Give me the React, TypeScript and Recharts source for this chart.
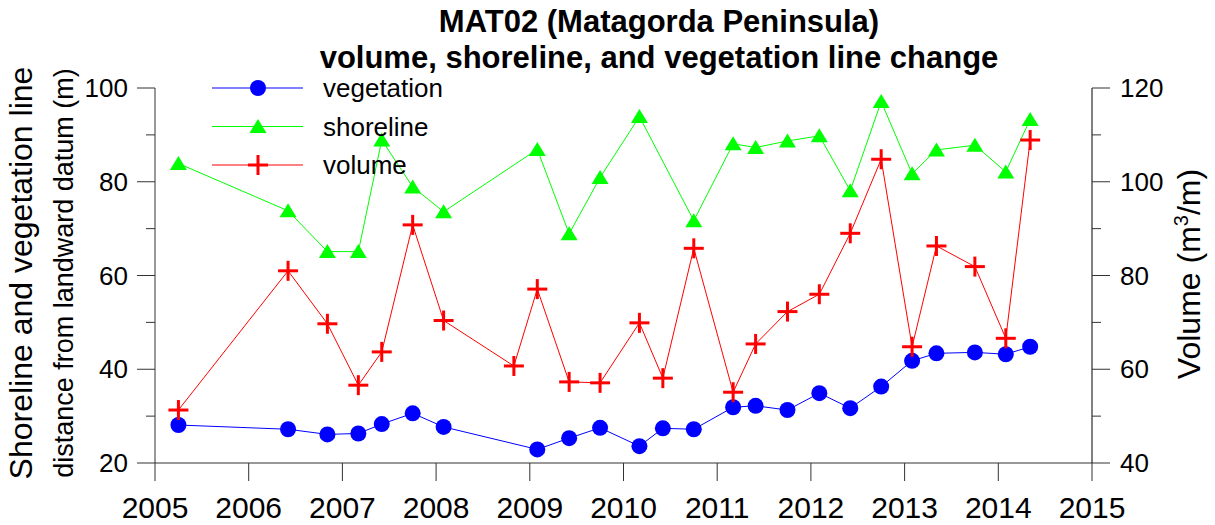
import React from "react"
import { LineChart, Line, XAxis, YAxis } from "recharts"

// survey dates (decimal years) shared by all three series
const surveyDates = [
  2005.25, 2006.42, 2006.84, 2007.17, 2007.42, 2007.75, 2008.08, 2008.83, 2009.08, 2009.42, 2009.75, 2010.17,
  2010.42, 2010.75, 2011.17, 2011.41, 2011.75, 2012.09, 2012.42, 2012.75, 2013.08, 2013.34, 2013.75, 2014.08,
  2014.34,
]

// distance from landward datum (m)
const vegetation = [
  28.1, 27.2, 26.1, 26.3, 28.3, 30.6, 27.7, null, 22.9, 25.3, 27.5, 23.6, 27.4, 27.2, 31.9, 32.2, 31.3, 34.9, 31.7,
  36.3, 41.8, 43.4, 43.6, 43.2, 44.8,
]
const shoreline = [
  83.9, 73.8, 65.1, 65.1, 88.9, 78.9, 73.6, null, 86.9, 68.9, 80.9, 93.9, null, 71.7, 88.1, 87.3, 88.7, 89.8, 78.1,
  97.1, 81.7, 86.8, 87.8, 82.1, 93.3,
]
// volume (m3/m), right axis
const volume = [
  51.3, 81.0, 69.7, 56.6, 63.7, 90.8, 70.4, 60.7, 77.1, 57.3, 57.1, 69.9, 58.1, 85.8, 55.1, 65.4, 72.3, 76.0, 89.0,
  104.8, 64.8, 86.3, 81.9, 66.6, 108.9,
]

const yearTicks = [2005, 2006, 2007, 2008, 2009, 2010, 2011, 2012, 2013, 2014, 2015]
const distanceTicks = [20, 30, 40, 50, 60, 70, 80, 90, 100]
const volumeTicks = [40, 50, 60, 70, 80, 90, 100, 110, 120]

const FONT = '"Liberation Sans", Arial, sans-serif'
const AXIS = "#333"
const BLUE = "#0000ff"
const GREEN = "#00ff00"
const RED = "#ff0000"

const data = surveyDates.map((year, i) => ({
  year,
  vegetation: vegetation[i],
  shoreline: shoreline[i],
  volume: volume[i],
}))

const LeftTick = (props: any) => {
  const { x, y, payload } = props
  const major = payload.value % 20 === 0
  return (
    <g>
      <line x1={x} x2={x - (major ? 18 : 9)} y1={y} y2={y} stroke={AXIS} />
      {major && (
        <text x={x - 27} y={y + 9} textAnchor="end" fontSize={26} fontFamily={FONT} fill="#000">
          {payload.value}
        </text>
      )}
    </g>
  )
}

const RightTick = (props: any) => {
  const { x, y, payload } = props
  const major = payload.value % 20 === 0
  return (
    <g>
      <line x1={x} x2={x + (major ? 18 : 9)} y1={y} y2={y} stroke={AXIS} />
      {major && (
        <text x={x + 28} y={y + 9} textAnchor="start" fontSize={26} fontFamily={FONT} fill="#000">
          {payload.value}
        </text>
      )}
    </g>
  )
}

const BottomTick = (props: any) => {
  const { x, y, payload } = props
  return (
    <g>
      <line x1={x} x2={x} y1={y} y2={y + 18} stroke={AXIS} />
      <text x={x} y={y + 55} textAnchor="middle" fontSize={30} fontFamily={FONT} fill="#000">
        {payload.value}
      </text>
    </g>
  )
}

const Triangle = ({ cx, cy }: { cx: number; cy: number }) => (
  <polygon points={`${cx},${cy - 7.5} ${cx - 8.5},${cy + 6.5} ${cx + 8.5},${cy + 6.5}`} fill={GREEN} />
)

const Plus = ({ cx, cy }: { cx: number; cy: number }) => (
  <g stroke={RED} strokeWidth={3}>
    <line x1={cx - 10} x2={cx + 10} y1={cy} y2={cy} />
    <line x1={cx} x2={cx} y1={cy - 10} y2={cy + 10} />
  </g>
)

const triangleDot = (p: any) =>
  p.cy == null || p.value == null ? <g key={p.key ?? `t-${p.index}`} /> : <Triangle key={p.key ?? `t-${p.index}`} cx={p.cx} cy={p.cy} />

const plusDot = (p: any) =>
  p.cy == null || p.value == null ? <g key={p.key ?? `p-${p.index}`} /> : <Plus key={p.key ?? `p-${p.index}`} cx={p.cx} cy={p.cy} />

const legendItems = [
  { name: "vegetation", color: BLUE, marker: "circle" },
  { name: "shoreline", color: GREEN, marker: "triangle" },
  { name: "volume", color: RED, marker: "plus" },
]

export default function App() {
  return (
    <div style={{ position: "absolute", left: 0, top: 0, width: 1215, height: 525, background: "#fff", fontFamily: FONT }}>
      <LineChart width={1215} height={525} data={data} margin={{ top: 88, right: 0, bottom: 0, left: 0 }}>
        <XAxis
          dataKey="year"
          type="number"
          domain={[2005, 2015]}
          ticks={yearTicks}
          interval={0}
          height={62}
          tickSize={0}
          tickMargin={0}
          tickLine={false}
          axisLine={{ stroke: AXIS }}
          tick={<BottomTick />}
        />
        <YAxis
          yAxisId="left"
          orientation="left"
          domain={[20, 100]}
          ticks={distanceTicks}
          interval={0}
          width={155}
          tickSize={0}
          tickMargin={0}
          tickLine={false}
          axisLine={{ stroke: AXIS }}
          tick={<LeftTick />}
        />
        <YAxis
          yAxisId="right"
          orientation="right"
          domain={[40, 120]}
          ticks={volumeTicks}
          interval={0}
          width={123}
          tickSize={0}
          tickMargin={0}
          tickLine={false}
          axisLine={{ stroke: "#000" }}
          tick={<RightTick />}
        />
        <Line
          yAxisId="left"
          dataKey="vegetation"
          stroke={BLUE}
          strokeWidth={1}
          connectNulls
          dot={{ r: 8, fill: BLUE, stroke: "none" }}
          isAnimationActive={false}
        />
        <Line
          yAxisId="left"
          dataKey="shoreline"
          stroke={GREEN}
          strokeWidth={1}
          connectNulls
          dot={triangleDot}
          isAnimationActive={false}
        />
        <Line
          yAxisId="right"
          dataKey="volume"
          stroke={RED}
          strokeWidth={1}
          connectNulls
          dot={plusDot}
          isAnimationActive={false}
        />
      </LineChart>

      <svg
        width={1215}
        height={525}
        style={{ position: "absolute", left: 0, top: 0, pointerEvents: "none" }}
        fontFamily={FONT}
      >
        <text x={659} y={32} textAnchor="middle" fontSize={31} fontWeight="bold">
          MAT02 (Matagorda Peninsula)
        </text>
        <text x={659} y={68} textAnchor="middle" fontSize={31} fontWeight="bold">
          volume, shoreline, and vegetation line change
        </text>

        <text transform="translate(32,273) rotate(-90)" textAnchor="middle" fontSize={32}>
          Shoreline and vegetation line
        </text>
        <text transform="translate(73,273) rotate(-90)" textAnchor="middle" fontSize={27}>
          distance from landward datum (m)
        </text>
        <text transform="translate(1200,274) rotate(-90)" textAnchor="middle" fontSize={32}>
          Volume (m<tspan fontSize={20} dy={-12}>3</tspan>
          <tspan dy={12}>/m)</tspan>
        </text>

        {legendItems.map((item, i) => {
          const cy = 88 + i * 38.5
          return (
            <g key={item.name}>
              <line x1={212} x2={303} y1={cy} y2={cy} stroke={item.color} strokeWidth={1} />
              {item.marker === "circle" && <circle cx={258} cy={cy} r={8} fill={item.color} />}
              {item.marker === "triangle" && <Triangle cx={258} cy={cy} />}
              {item.marker === "plus" && <Plus cx={258} cy={cy} />}
              <text x={323} y={cy + 9} fontSize={26}>
                {item.name}
              </text>
            </g>
          )
        })}
      </svg>
    </div>
  )
}
